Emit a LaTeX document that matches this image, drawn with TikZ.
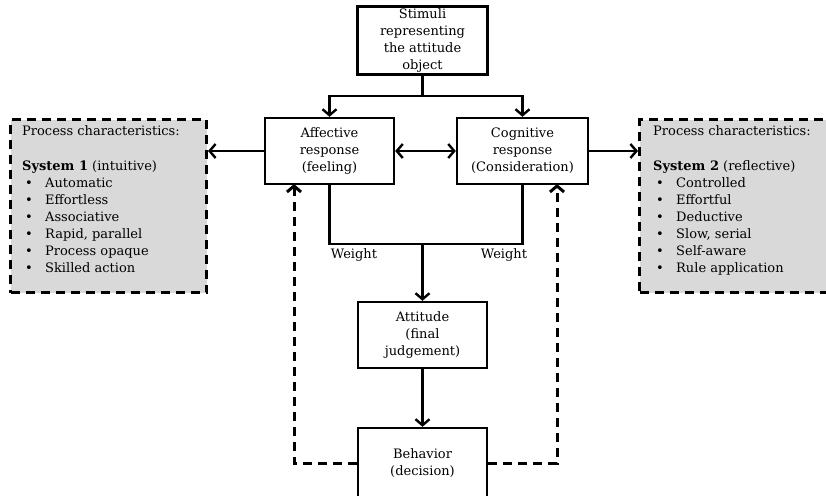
\documentclass[tikz,border=0pt]{standalone}
\usepackage{fontspec}
\setmainfont{DejaVu Serif}
\usetikzlibrary{arrows.meta}
\definecolor{panelgrey}{HTML}{D9D9D9}
\newcommand{\bulitem}[1]{\hspace*{3pt}\makebox[20pt][l]{\textbullet}#1}
\begin{document}
\begin{tikzpicture}[x=1pt,y=-1pt,
  txt/.style={font=\fontsize{13}{17}\selectfont},
  stepbox/.style={draw, line width=2.4pt, fill=white, align=center, inner sep=0pt, txt},
  panel/.style={draw, line width=3pt, dash pattern=on 9pt off 6pt, fill=panelgrey},
  link/.style={line width=2.4pt},
  arr/.style={line width=2.4pt, -{Straight Barb[length=6pt,width=14pt]}},
  dblarr/.style={line width=2.4pt, {Straight Barb[length=6pt,width=14pt]}-{Straight Barb[length=6pt,width=14pt]}},
  fbarr/.style={line width=3pt, dash pattern=on 9pt off 6pt, -{Straight Barb[length=6pt,width=14pt]}},
]
\clip (0,0) rectangle (826,495);
\fill[white] (0,0) rectangle (826,495);

% side panels with process characteristics
\node[panel, minimum width=196, minimum height=173, anchor=north west] (sys1) at (9,118) {};
\node[panel, minimum width=200, minimum height=173, anchor=north west] (sys2) at (638,118) {};
\node[txt, align=left, anchor=north west, inner sep=0pt] (sys1txt) at (22,125)
  {Process characteristics:\\[18pt]
   \textbf{System 1} (intuitive)\\
   \bulitem{Automatic}\\
   \bulitem{Effortless}\\
   \bulitem{Associative}\\
   \bulitem{Rapid, parallel}\\
   \bulitem{Process opaque}\\
   \bulitem{Skilled action}};
\node[txt, align=left, anchor=north west, inner sep=0pt] (sys2txt) at (653,125)
  {Process characteristics:\\[18pt]
   \textbf{System 2} (reflective)\\
   \bulitem{Controlled}\\
   \bulitem{Effortful}\\
   \bulitem{Deductive}\\
   \bulitem{Slow, serial}\\
   \bulitem{Self-aware}\\
   \bulitem{Rule application}};

% main flow boxes
\node[stepbox, minimum width=130, minimum height=68] (stim) at (422.5,40.5)
  {Stimuli\\representing\\the attitude\\object};
\node[stepbox, minimum width=129, minimum height=66] (aff) at (329.5,151)
  {Affective\\response\\(feeling)};
\node[stepbox, minimum width=131, minimum height=66] (cog) at (522.5,151)
  {Cognitive\\response\\(Consideration)};
\node[stepbox, minimum width=129, minimum height=66] (att) at (422.5,335)
  {Attitude\\(final\\judgement)};
\node[stepbox, minimum width=129, minimum height=70] (beh) at (422.5,463)
  {Behavior\\(decision)};

% routing points
\coordinate (fork) at (422.5,96);
\coordinate (merge) at (422.5,244);
\coordinate (affin) at (294,184);
\coordinate (cogin) at (557,184);

% stimuli split into both responses
\draw[link] (stim.south) -- (fork);
\draw[arr] (fork) -| (aff.north);
\draw[arr] (fork) -| (cog.north);

% responses linked to each other and to the panels
\draw[dblarr] (aff.east) -- (cog.west);
\draw[arr] (aff.west) -- (aff.west -| sys1.east);
\draw[arr] (cog.east) -- (cog.east -| sys2.west);

% weighted merge into the attitude
\draw[link] (aff.south) |- (merge) -| (cog.south);
\draw[arr] (merge) -- (att.north);
\node[txt, inner sep=0pt] (wl) at (354,255) {Weight};
\node[txt, inner sep=0pt] (wr) at (504,255) {Weight};

\draw[arr] (att.south) -- (beh.north);

% feedback from behavior
\draw[fbarr] (beh.west) -| (affin);
\draw[fbarr] (beh.east) -| (cogin);
\end{tikzpicture}
\end{document}
